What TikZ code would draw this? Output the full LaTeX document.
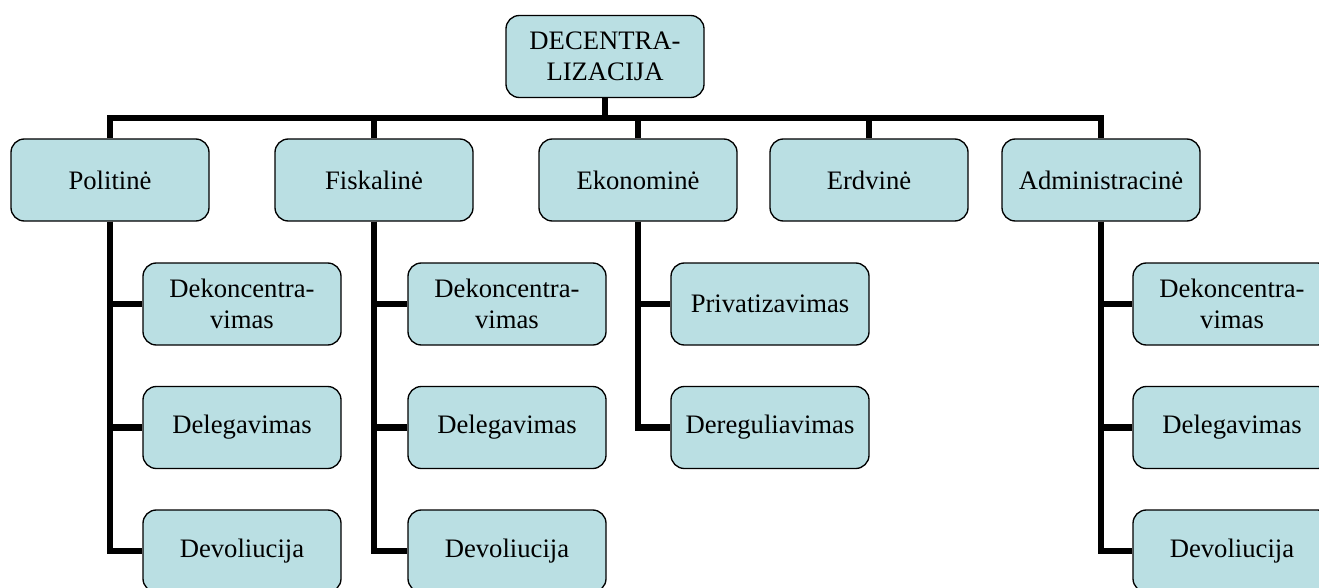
\documentclass[tikz,border=0pt]{standalone}
\usepackage{fontspec}
\setmainfont{Liberation Serif}
\usetikzlibrary{backgrounds}
\definecolor{boxfill}{RGB}{186,223,227}
\begin{document}
\begin{tikzpicture}[x=0.75pt,y=-0.75pt,
  box/.style={draw=black,line width=1pt,fill=boxfill,rounded corners=10pt,
    minimum width=148.5pt,minimum height=61.5pt,align=center,inner sep=2pt,
    font=\fontsize{20}{23}\selectfont},
  conn/.style={draw=black,line width=4.6pt,line join=miter}]
\useasboundingbox (0,0) rectangle (1319,588);
\coordinate (bar) at (605,118);
\node[box] (top) at (605,56.5) {DECENTRA-\\LIZACIJA};
\node[box] (pol) at (110,180) {Politinė};
\node[box] (fis) at (374,180) {Fiskalinė};
\node[box] (eko) at (638,180) {Ekonominė};
\node[box] (erd) at (869,180) {Erdvinė};
\node[box] (adm) at (1101,180) {Administracinė};
\node[box] (pol1) at (242,304) {Dekoncentra-\\vimas};
\node[box] (pol2) at (242,427.5) {Delegavimas};
\node[box] (pol3) at (242,551) {Devoliucija};
\node[box] (fis1) at (507,304) {Dekoncentra-\\vimas};
\node[box] (fis2) at (507,427.5) {Delegavimas};
\node[box] (fis3) at (507,551) {Devoliucija};
\node[box] (eko1) at (770,304) {Privatizavimas};
\node[box] (eko2) at (770,427.5) {Dereguliavimas};
\node[box] (adm1) at (1232,304) {Dekoncentra-\\vimas};
\node[box] (adm2) at (1232,427.5) {Delegavimas};
\node[box] (adm3) at (1232,551) {Devoliucija};
\begin{scope}[on background layer]
\draw[conn] (top.south) -- (bar);
\foreach \n in {pol,fis,eko,erd,adm} {\draw[conn] (\n.north) |- (bar);}
\foreach \n/\c in {pol/pol1,pol/pol2,pol/pol3,fis/fis1,fis/fis2,fis/fis3,eko/eko1,eko/eko2,adm/adm1,adm/adm2,adm/adm3} {\draw[conn] (\n.south) |- (\c.west);}
\end{scope}
\end{tikzpicture}
\end{document}
